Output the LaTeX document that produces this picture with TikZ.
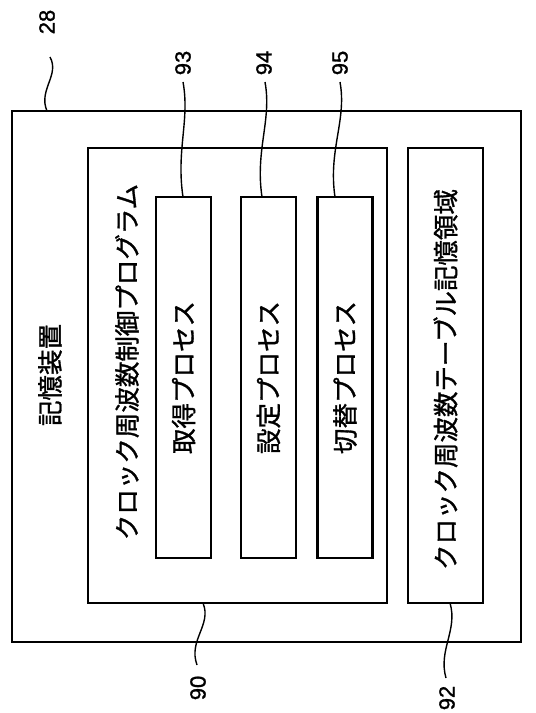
\documentclass[tikz,border=0pt]{standalone}
\usepackage{fontspec}
\newfontfamily\jp[FakeBold=1.2]{Noto Sans CJK JP}
\newfontfamily\numfont[FakeBold=1.2]{Liberation Sans}
\begin{document}
\begin{tikzpicture}[x=1pt,y=-1pt,
  box/.style={draw=black,line width=2.8pt,inner sep=0pt},
  jtext/.style={font=\jp\fontsize{25.5}{30}\selectfont,rotate=90,inner sep=0pt},
  num/.style={font=\numfont\fontsize{22}{26}\selectfont,rotate=90,inner sep=0pt},
  lead/.style={line width=1.4pt}]
\useasboundingbox (0,0) rectangle (536,713);
% boxes
\node[box,minimum width=509pt,minimum height=531pt] (outer) at (266.5,376.5) {};
\node[box,minimum width=299pt,minimum height=455pt] (prog) at (237.5,375.5) {};
\node[box,minimum width=75pt,minimum height=455pt] (table) at (445.5,375.5) {};
\node[box,minimum width=55pt,minimum height=361pt] (p93) at (183.5,377.5) {};
\node[box,minimum width=55pt,minimum height=361pt] (p94) at (268.5,377.5) {};
\node[box,minimum width=55pt,minimum height=361pt] (p95) at (345,377.5) {};
% texts
\node[jtext] (t28) at (50,375) {記憶装置};
\node[jtext] (t90) at (127,362) {クロック周波数制御プログラム};
\node[jtext] at (p93.center) {取得プロセス};
\node[jtext] at (p94.center) {設定プロセス};
\node[jtext] at (p95.center) {切替プロセス};
\node[jtext] at ([yshift=-4pt]table.center) {クロック周波数テーブル記憶領域};
% numbers
\node[num] (n28) at (47,22) {28};
\node[num] (n93) at (183,63) {93};
\node[num] (n94) at (264,63) {94};
\node[num] (n95) at (340,63) {95};
\node[num] (n90) at (198,688) {90};
\node[num] (n92) at (447,698) {92};
% leader ends
\coordinate (a28) at (50,57);
\coordinate (b28) at (47,111);
\coordinate (a93) at (183,82);
\coordinate (b93) at (183,197);
\coordinate (a94) at (265,82);
\coordinate (b94) at (262,197);
\coordinate (a95) at (340,82);
\coordinate (b95) at (335,197);
\coordinate (a90) at (203,603);
\coordinate (b90) at (197,665);
\coordinate (a92) at (450,603);
\coordinate (b92) at (446,678);
\draw[lead] (a28) .. controls (60,75) and (38,90) .. (b28);
\draw[lead] (a93) .. controls (190,120) and (176,150) .. (b93);
\draw[lead] (a94) .. controls (272,120) and (255,150) .. (b94);
\draw[lead] (a95) .. controls (347,120) and (328,150) .. (b95);
\draw[lead] (a90) .. controls (212,625) and (188,640) .. (b90);
\draw[lead] (a92) .. controls (458,630) and (438,650) .. (b92);
\end{tikzpicture}
\end{document}
